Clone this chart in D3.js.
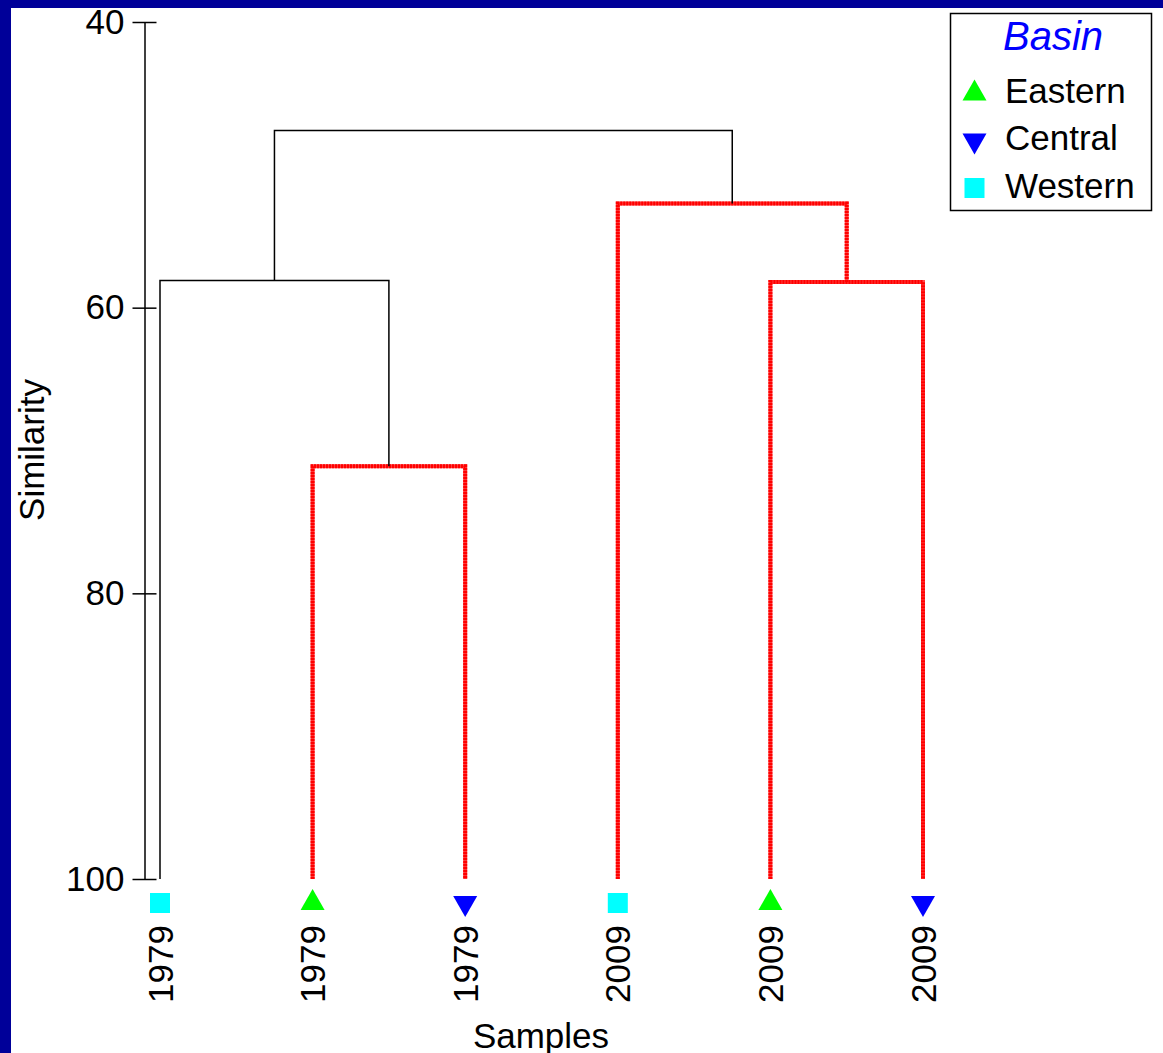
<!DOCTYPE html>
<html>
<head>
<meta charset="utf-8">
<script src="https://cdn.jsdelivr.net/npm/d3@7"></script>
<style>
  html, body { margin: 0; padding: 0; background: #000099; }
  svg { display: block; }
  text { font-family: "Liberation Sans", Arial, sans-serif; }
</style>
</head>
<body>
<svg id="chart" width="1163" height="1053"></svg>
<script>
// Samples (leaves), in dendrogram order
const leafLabels = ["1979", "1979", "1979", "2009", "2009", "2009"];
const leafBasins = ["Western", "Eastern", "Central", "Western", "Eastern", "Central"];

// Agglomeration steps: negative = leaf (1-based), positive = earlier step (1-based)
const mergeA = [-2, -5, -1, -4, 3];
const mergeB = [-3, -6, 1, 2, 4];
const mergeSimilarity = [71.1, 58.2, 58.1, 52.7, 47.6];
// Steps with no significant internal structure (SIMPROF), drawn in red
const mergeSimprof = [true, true, false, true, false];

// Legend entries
const basinNames = ["Eastern", "Central", "Western"];
const basinColors = ["#00ff00", "#0000ff", "#00ffff"];
const basinShapes = ["up", "down", "square"];

const yTicks = [40, 60, 80, 100];

const svg = d3.select("#chart");
const W = 1163, H = 1053;

// white panel inside the navy frame
svg.append("rect").attr("x", 11).attr("y", 8).attr("width", W - 11).attr("height", H - 8).attr("fill", "#fff");

const y = d3.scaleLinear().domain([40, 100]).range([22, 879]);
const x = d3.scalePoint().domain(d3.range(leafLabels.length)).range([160, 923]);

const colorOf = d3.scaleOrdinal().domain(basinNames).range(basinColors);
const shapeOf = d3.scaleOrdinal().domain(basinNames).range(basinShapes);

// Y axis
const axisX = 144.5;
const gAxis = svg.append("g").attr("transform", `translate(${axisX},0)`)
  .call(d3.axisLeft(y).tickValues(yTicks).tickSize(12).tickSizeOuter(0).tickPadding(8));
gAxis.select(".domain").attr("stroke", "#000").attr("stroke-width", 1.5);
gAxis.selectAll(".tick line").attr("x2", 12).attr("x1", -12).attr("stroke", "#000").attr("stroke-width", 1.5);
gAxis.selectAll(".tick text").attr("font-size", 35).attr("fill", "#000")
  .attr("font-family", "'Liberation Sans', Arial, sans-serif");

// Dendrogram: compute node positions from the merge table
const nodePos = [];   // [x, y] for each step
function childPos(k) {
  if (k < 0) return [x(-k - 1), y(100)];
  return nodePos[k - 1];
}
const links = [];
mergeA.forEach((a, i) => {
  const pa = childPos(a), pb = childPos(mergeB[i]);
  const yy = y(mergeSimilarity[i]);
  nodePos.push([(pa[0] + pb[0]) / 2, yy]);
  links.push({ pa, pb, yy, red: mergeSimprof[i] });
});

const gTree = svg.append("g");
links.forEach(l => {
  const d = `M${l.pa[0]},${l.pa[1]}V${l.yy}H${l.pb[0]}V${l.pb[1]}`;
  if (l.red) {
    gTree.append("path").attr("d", d).attr("fill", "none")
      .attr("stroke", "#ff4a4a").attr("stroke-width", 4);
    gTree.append("path").attr("d", d).attr("fill", "none")
      .attr("stroke", "#ff0000").attr("stroke-width", 4)
      .attr("stroke-dasharray", "2.2,0.8");
  } else {
    gTree.append("path").attr("d", d).attr("fill", "none")
      .attr("stroke", "#000").attr("stroke-width", 1.5);
  }
});

// Marker drawing
function drawMarker(g, shape, cx, cy, color) {
  if (shape === "square") {
    g.append("rect").attr("x", cx - 10).attr("y", cy - 10).attr("width", 20).attr("height", 20).attr("fill", color);
  } else if (shape === "up") {
    g.append("path").attr("d", `M${cx},${cy - 11}L${cx + 12},${cy + 10}L${cx - 12},${cy + 10}Z`).attr("fill", color);
  } else {
    g.append("path").attr("d", `M${cx - 12},${cy - 10}L${cx + 12},${cy - 10}L${cx},${cy + 11}Z`).attr("fill", color);
  }
}

// Leaf markers and labels
const gLeaves = svg.append("g");
leafLabels.forEach((lab, i) => {
  const cx = x(i);
  const b = leafBasins[i];
  const cy = b === "Western" ? 903 : (b === "Eastern" ? 900 : 906);
  drawMarker(gLeaves, shapeOf(b), cx, cy, colorOf(b));
  gLeaves.append("text")
    .attr("transform", `translate(${cx + 12.5},925) rotate(-90)`)
    .attr("text-anchor", "end")
    .attr("font-size", 35)
    .attr("fill", "#000")
    .text(lab);
});

// Axis titles
svg.append("text").attr("x", 541).attr("y", 1048).attr("text-anchor", "middle")
  .attr("font-size", 35).attr("fill", "#000").text("Samples");
svg.append("text").attr("transform", "translate(44,450) rotate(-90)").attr("text-anchor", "middle")
  .attr("font-size", 35).attr("fill", "#000").text("Similarity");

// Legend
const lg = svg.append("g");
lg.append("rect").attr("x", 950.5).attr("y", 13.5).attr("width", 201).attr("height", 197)
  .attr("fill", "#fff").attr("stroke", "#000").attr("stroke-width", 1.5);
lg.append("text").attr("x", 1053).attr("y", 50).attr("text-anchor", "middle")
  .attr("font-size", 40).attr("font-style", "italic").attr("fill", "#0000ff").text("Basin");
basinNames.forEach((name, i) => {
  const base = 103 + i * 47.3;
  const cy = name === "Eastern" ? 90.5 : (name === "Central" ? 143.5 : 188);
  drawMarker(lg, shapeOf(name), 974.5, cy, colorOf(name));
  lg.append("text").attr("x", 1005).attr("y", base).attr("font-size", 35).attr("fill", "#000").text(name);
});
</script>
</body>
</html>
